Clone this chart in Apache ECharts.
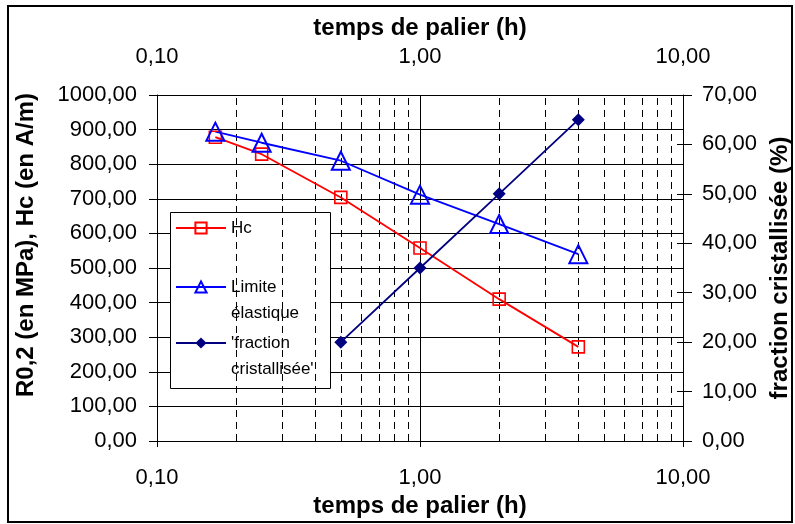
<!DOCTYPE html>
<html>
<head>
<meta charset="utf-8">
<script src="https://cdn.jsdelivr.net/npm/echarts@6/dist/echarts.min.js"></script>
<style>
html,body{margin:0;padding:0;background:#fff;}
#chart{width:795px;height:524px;}
</style>
</head>
<body>
<div id="chart"></div>
<script>
// ---- data ----
const timeHours = [1/6, 0.25, 0.5, 1, 2, 4];
const hcValues = [878, 829, 704, 558, 410, 272];
const limiteValues = [894, 862, 810, 712, 627, 540];
const fractionTime = [0.5, 1, 2, 4];
const fractionValues = [20, 35, 50, 65];
const minorGridTimes = [0.2, 0.3, 0.4, 0.5, 0.6, 0.7, 0.8, 0.9, 2, 3, 4, 5, 6, 7, 8, 9];
const seriesNames = ['Hc', 'Limite élastique', "'fraction cristallisée'"];
const xTitle = 'temps de palier (h)';
const leftTitle = 'R0,2 (en MPa), Hc (en A/m)';
const rightTitle = 'fraction cristallisée (%)';

const FONT = '"Liberation Sans", Arial, sans-serif';
const fmt = v => Number(v).toFixed(2).replace('.', ',');
const pairs = (xs, ys) => xs.map((x, i) => [x, ys[i]]);

const chart = echarts.init(document.getElementById('chart'), null, {renderer: 'canvas'});

const labelStyle = {fontSize: 22, color: '#000', fontFamily: FONT};
const nameStyle = {fontSize: 24, fontWeight: 'bold', color: '#000', fontFamily: FONT};
const blackLine = {lineStyle: {color: '#000', width: 1}};
const legendText = {fontSize: 17, color: '#000', fontFamily: FONT, lineHeight: 26};

const legendBase = {
  orient: 'vertical', left: 175, padding: 0, itemGap: 0,
  itemWidth: 50, itemHeight: 14,
  selectedMode: false,
  textStyle: legendText
};
// two-line names: a leading blank line keeps the icon level with the first line
const twoLine = n => '\u00a0\n' + n.replace(' ', '\n');

const option = {
  animation: false,
  backgroundColor: '#fff',
  grid: {left: 157, top: 95, right: 112, bottom: 83, containLabel: false, outerBoundsMode: 'none', show: false},
  graphic: [
    {type: 'rect', z: 1, shape: {x: 8, y: 6, width: 784, height: 516},
     style: {fill: 'none', stroke: '#000', lineWidth: 2}},
    {type: 'rect', z: 3, shape: {x: 170.5, y: 212.5, width: 160, height: 176},
     style: {fill: '#fff', stroke: '#000', lineWidth: 1}}
  ],
  legend: [
    Object.assign({}, legendBase, {data: [seriesNames[0]], top: 215}),
    Object.assign({}, legendBase, {data: [seriesNames[1]], top: 248, formatter: twoLine}),
    Object.assign({}, legendBase, {data: [seriesNames[2]], top: 304, formatter: twoLine})
  ],
  xAxis: [
    {
      type: 'log', logBase: 10, min: 0.1, max: 10, position: 'bottom',
      name: xTitle, nameLocation: 'middle', nameGap: 45, nameTextStyle: nameStyle,
      axisLine: blackLine,
      axisTick: {show: true, length: 6, lineStyle: {color: '#000'}},
      axisLabel: Object.assign({formatter: fmt, margin: 26}, labelStyle),
      splitLine: {show: true, lineStyle: {color: '#000', width: 1}}
    },
    {
      type: 'log', logBase: 10, min: 0.1, max: 10, position: 'top',
      name: xTitle, nameLocation: 'middle', nameGap: 55, nameTextStyle: nameStyle,
      axisLine: blackLine,
      axisTick: {show: true, length: 8, lineStyle: {color: '#000'}},
      axisLabel: Object.assign({formatter: fmt, margin: 27}, labelStyle),
      splitLine: {show: false}
    }
  ],
  yAxis: [
    {
      type: 'value', min: 0, max: 1000, interval: 100, position: 'left',
      name: leftTitle, nameLocation: 'middle', nameGap: 119, nameRotate: 90,
      nameTextStyle: Object.assign({padding: [0, 0, 0, 46]}, nameStyle),
      axisLine: {show: true, lineStyle: {color: '#000', width: 1}},
      axisTick: {show: true, length: 8, lineStyle: {color: '#000'}},
      axisLabel: Object.assign({formatter: fmt, margin: 20}, labelStyle),
      splitLine: {show: true, lineStyle: {color: '#000', width: 1}}
    },
    {
      type: 'value', min: 0, max: 70, interval: 10, position: 'right',
      name: rightTitle, nameLocation: 'middle', nameGap: 84, nameRotate: 90,
      nameTextStyle: nameStyle,
      axisLine: {show: true, lineStyle: {color: '#000', width: 1}},
      axisTick: {show: true, length: 9, lineStyle: {color: '#000'}},
      axisLabel: Object.assign({formatter: fmt, margin: 19}, labelStyle),
      splitLine: {show: false}
    },
    {
      type: 'value', min: 0, max: 70, interval: 10, position: 'right',
      axisLine: {show: false},
      axisTick: {show: true, inside: true, length: 6, lineStyle: {color: '#000'}},
      axisLabel: {show: false},
      splitLine: {show: false}
    }
  ],
  series: [
    {
      name: seriesNames[0], type: 'line', xAxisIndex: 0, yAxisIndex: 0,
      data: pairs(timeHours, hcValues),
      symbol: 'rect', symbolSize: 12, showAllSymbol: true,
      itemStyle: {color: 'transparent', borderColor: '#FF0000', borderWidth: 1.6},
      lineStyle: {color: '#FF0000', width: 1.8},
      z: 5,
      markLine: {
        silent: true, symbol: ['none', 'none'], label: {show: false},
        lineStyle: {color: '#000', width: 1, type: [7, 5]},
        emphasis: {disabled: true},
        data: minorGridTimes.map(t => ({xAxis: t}))
      }
    },
    {
      name: seriesNames[1], type: 'line', xAxisIndex: 0, yAxisIndex: 0,
      data: pairs(timeHours, limiteValues),
      symbol: 'triangle', symbolSize: 18,
      itemStyle: {color: 'transparent', borderColor: '#0000FF', borderWidth: 2},
      lineStyle: {color: '#0000FF', width: 1.8},
      z: 5
    },
    {
      name: seriesNames[2], type: 'line', xAxisIndex: 0, yAxisIndex: 1,
      data: pairs(fractionTime, fractionValues),
      symbol: 'diamond', symbolSize: 13,
      itemStyle: {color: '#000080'},
      lineStyle: {color: '#000080', width: 1.8},
      z: 5
    }
  ]
};
chart.setOption(option);
</script>
</body>
</html>
